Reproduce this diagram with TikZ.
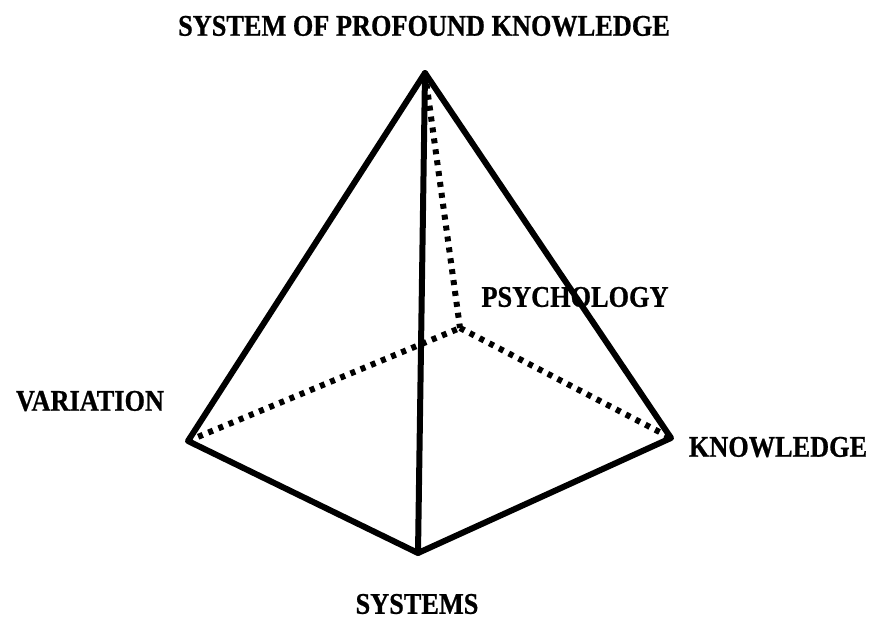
\documentclass[tikz,border=0pt]{standalone}
\usepackage{fontspec}
\setmainfont{Liberation Serif}[BoldFeatures={FakeBold=0.8}]
\begin{document}
\begin{tikzpicture}[x=1pt,y=-1pt,
  edge/.style={line width=6pt,line cap=round,line join=round},
  hidden/.style={line width=6pt,dash pattern=on 5pt off 6pt},
  lbl/.style={font=\bfseries\fontsize{26.3}{28}\selectfont,inner sep=0pt,yscale=1.14}]
\useasboundingbox (0,0) rectangle (872,619);
\coordinate (A) at (425,73);
\coordinate (B) at (460,328);
\coordinate (L) at (188,441);
\coordinate (R) at (671,438);
\coordinate (S) at (418,553);
\draw[hidden] (A) -- (B);
\draw[hidden] (L) -- (B);
\draw[hidden] (B) -- (R);
\draw[edge] (A) -- (L) -- (S) -- (R) -- cycle;
\draw[edge] (A) -- (S);
\node[lbl] (t) at (424,26) {SYSTEM OF PROFOUND KNOWLEDGE};
\node[lbl] (p) at (575,297) {PSYCHOLOGY};
\node[lbl] (v) at (90,401) {VARIATION};
\node[lbl] (k) at (778,447) {KNOWLEDGE};
\node[lbl] (s) at (417,604) {SYSTEMS};
\end{tikzpicture}
\end{document}
